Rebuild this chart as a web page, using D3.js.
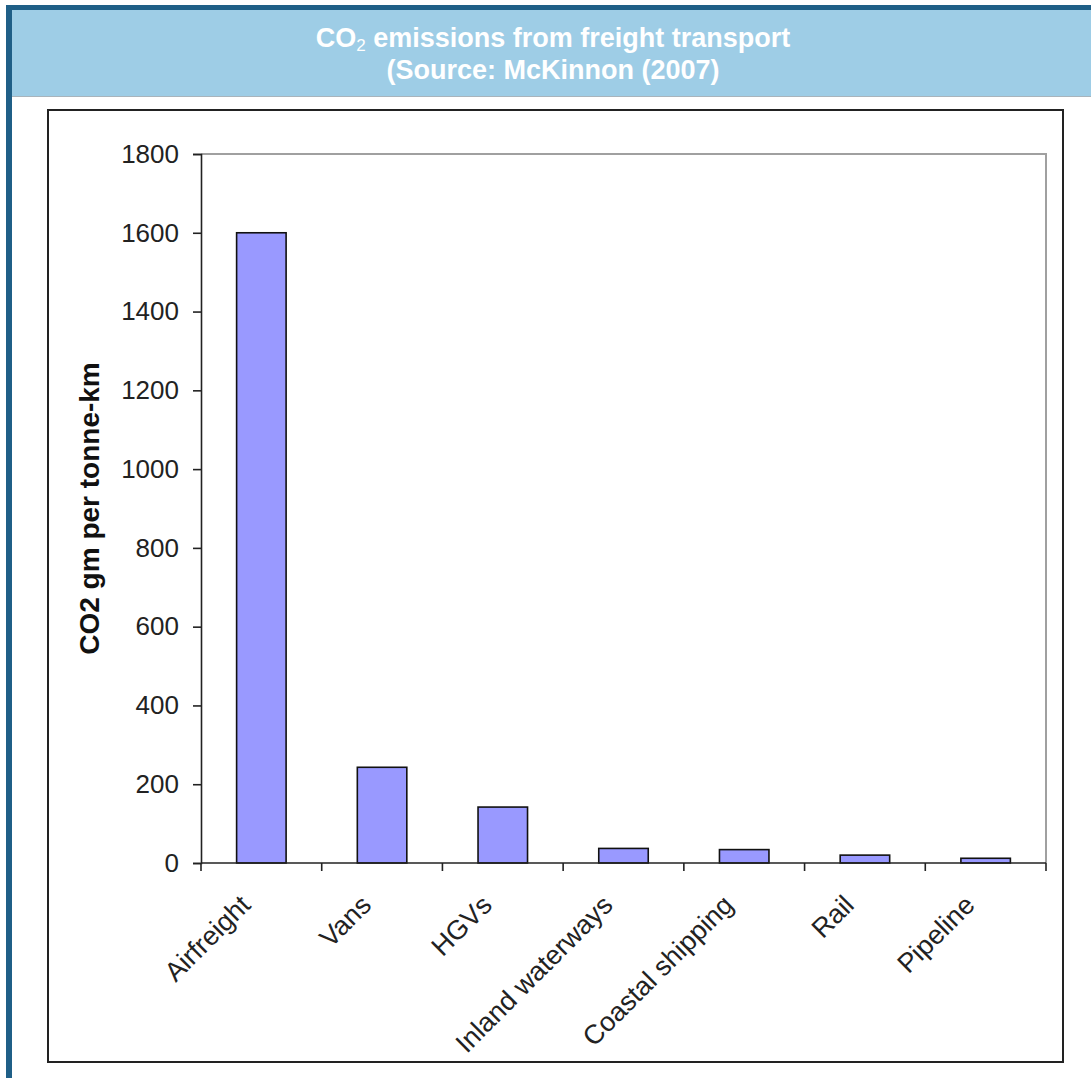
<!DOCTYPE html>
<html>
<head>
<meta charset="utf-8">
<script src="https://cdn.jsdelivr.net/npm/d3@7"></script>
<style>
  html, body { margin: 0; padding: 0; background: #fff; }
  svg { display: block; }
</style>
</head>
<body>
<div id="chart"></div>
<script>
// values
var categories = ["Airfreight", "Vans", "HGVs", "Inland waterways", "Coastal shipping", "Rail", "Pipeline"];
var emissions = [1600, 243, 142, 37, 34, 20, 12];
var yTicks = [0, 200, 400, 600, 800, 1000, 1200, 1400, 1600, 1800];
var titleLines = ["emissions from freight transport", "(Source: McKinnon (2007)"];
var yTitle = "CO2 gm per tonne-km";

var W = 1091, H = 1078;
var font = "'Liberation Sans', Arial, Helvetica, sans-serif";

var svg = d3.select("#chart").append("svg")
    .attr("width", W)
    .attr("height", H);

// page frame: dark blue edges and light blue header
svg.append("rect").attr("x", 6).attr("y", 5).attr("width", W - 6).attr("height", 5).attr("fill", "#1f5f87");
svg.append("rect").attr("x", 6).attr("y", 5).attr("width", 6).attr("height", H - 5).attr("fill", "#1f5f87");
svg.append("rect").attr("x", 12).attr("y", 10).attr("width", W - 12).attr("height", 86).attr("fill", "#9ecde6");
svg.append("line").attr("x1", 12).attr("x2", W).attr("y1", 96.5).attr("y2", 96.5)
    .attr("stroke", "#a8b4bc").attr("stroke-width", 1);

var title = svg.append("text")
    .attr("font-family", font)
    .attr("font-weight", "bold")
    .attr("font-size", 27)
    .attr("fill", "#fff")
    .attr("text-anchor", "middle");
var t1 = title.append("tspan").attr("x", 553).attr("y", 47);
t1.append("tspan").text("CO");
t1.append("tspan").attr("font-size", 17).attr("font-weight", "normal").attr("dy", 4).text("2");
t1.append("tspan").attr("dy", -4).text(" " + titleLines[0]);
title.append("tspan").attr("x", 553).attr("y", 79).text(titleLines[1]);

// chart box
svg.append("rect")
    .attr("x", 48).attr("y", 110)
    .attr("width", 1015).attr("height", 952)
    .attr("fill", "#fff")
    .attr("stroke", "#222")
    .attr("stroke-width", 2);

var plot = { left: 201, top: 154, right: 1046, bottom: 863 };

var x = d3.scaleBand()
    .domain(categories)
    .range([plot.left, plot.right])
    .paddingInner(0.59)
    .paddingOuter(0.295);

var y = d3.scaleLinear()
    .domain([0, 1800])
    .range([plot.bottom, plot.top]);

// plot area border (grey top/right)
svg.append("path")
    .attr("d", "M" + plot.left + "," + plot.top + "H" + plot.right + "V" + plot.bottom)
    .attr("fill", "none")
    .attr("stroke", "#a0a0a0")
    .attr("stroke-width", 2);

svg.selectAll("rect.bar")
    .data(emissions)
    .enter().append("rect")
    .attr("class", "bar")
    .attr("x", function (d, i) { return x(categories[i]); })
    .attr("y", function (d) { return y(d); })
    .attr("width", x.bandwidth())
    .attr("height", function (d) { return y(0) - y(d); })
    .attr("fill", "#9999ff")
    .attr("stroke", "#111")
    .attr("stroke-width", 1.6);

// y axis
var yAxis = svg.append("g")
    .attr("transform", "translate(" + plot.left + ",0)")
    .call(d3.axisLeft(y).tickValues(yTicks).tickSize(8).tickPadding(14).tickFormat(d3.format("d")));
yAxis.select(".domain").attr("stroke", "#222").attr("stroke-width", 1.6);
yAxis.selectAll(".tick line").attr("stroke", "#222").attr("stroke-width", 1.6);
yAxis.selectAll(".tick text")
    .attr("font-family", font)
    .attr("font-size", 26)
    .attr("fill", "#222");

// x axis: ticks on category boundaries
var step = x.step();
var bounds = d3.range(categories.length + 1).map(function (i) { return plot.left + i * step; });
svg.append("line")
    .attr("x1", plot.left).attr("x2", plot.right)
    .attr("y1", plot.bottom).attr("y2", plot.bottom)
    .attr("stroke", "#222").attr("stroke-width", 1.6);
svg.selectAll("line.xtick")
    .data(bounds)
    .enter().append("line")
    .attr("class", "xtick")
    .attr("x1", function (d) { return d; }).attr("x2", function (d) { return d; })
    .attr("y1", plot.bottom).attr("y2", plot.bottom + 8)
    .attr("stroke", "#222").attr("stroke-width", 1.6);

svg.selectAll("text.xlabel")
    .data(categories)
    .enter().append("text")
    .attr("class", "xlabel")
    .attr("transform", function (d) {
        return "translate(" + (x(d) + x.bandwidth() / 2 - 16) + "," + (plot.bottom + 37) + ") rotate(-45)";
    })
    .attr("text-anchor", "end")
    .attr("dy", "0.35em")
    .attr("font-family", font)
    .attr("font-size", 27)
    .attr("fill", "#222")
    .text(function (d) { return d; });

svg.append("text")
    .attr("transform", "translate(99," + ((plot.top + plot.bottom) / 2) + ") rotate(-90)")
    .attr("text-anchor", "middle")
    .attr("font-family", font)
    .attr("font-weight", "bold")
    .attr("font-size", 28)
    .attr("fill", "#111")
    .text(yTitle);
</script>
</body>
</html>
